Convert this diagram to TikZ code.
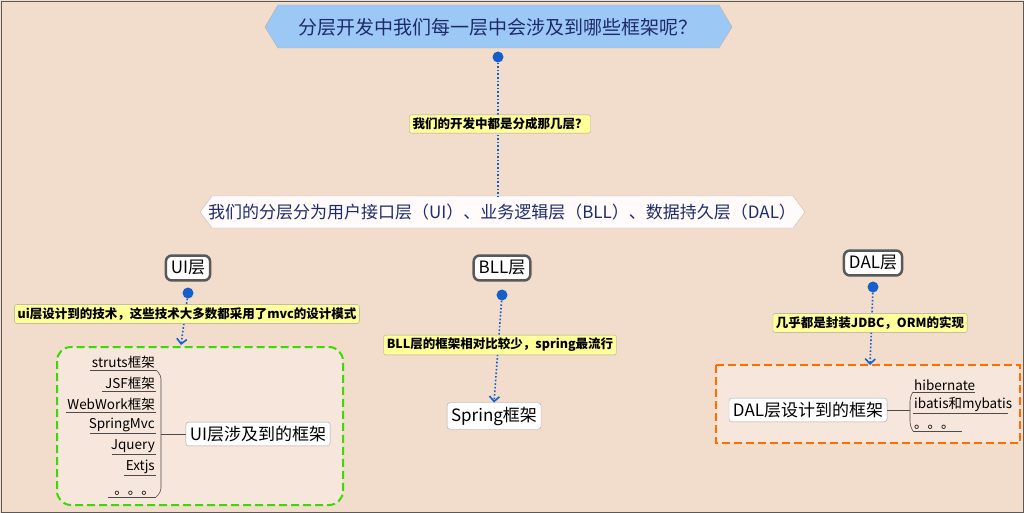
\documentclass[tikz,border=0pt]{standalone}
\usepackage{fontspec}
\setmainfont{Noto Sans CJK SC}
\usetikzlibrary{shapes.geometric,arrows.meta}
\definecolor{bg}{HTML}{F2DCCC}
\definecolor{navy}{HTML}{1F2A6B}
\definecolor{dotb}{HTML}{1560C8}
\definecolor{lab}{HTML}{FFFF99}
\tikzset{
 lab/.style={draw=gray!70,fill=lab,rounded corners=2pt,font=\fontsize{12.5}{13}\selectfont\bfseries,inner sep=3pt},
 lay/.style={draw=gray!70!black,line width=2.5pt,fill=white,rounded corners=6pt,font=\fontsize{17}{18}\selectfont,inner sep=5pt},
 wb/.style={draw=gray!70,fill=white,rounded corners=3pt,font=\fontsize{17}{18}\selectfont,inner sep=4pt},
 it/.style={font=\fontsize{13.5}{14}\selectfont,inner sep=1pt,anchor=south east},
 itl/.style={font=\fontsize{13.5}{14}\selectfont,inner sep=1pt,anchor=south west},
 dl/.style={dotb,line width=1.6pt,dotted},
 dot/.style={circle,fill=dotb,inner sep=0pt,minimum size=11pt},
 br/.style={draw=gray!60!black,line width=0.6pt}
}
\begin{document}
\begin{tikzpicture}[x=1pt,y=-1pt]
\useasboundingbox (0,0) rectangle (1024,513);
\fill[bg] (0,0) rectangle (1024,513);
\draw[gray!70!black,line width=0.8pt] (1,1) rectangle (1023,512);
% title
\fill[fill={rgb,255:red,156;green,200;blue,245},draw=gray!60] (265,27)--(278,5)--(719,5)--(732,27)--(719,48)--(278,48)--cycle;
\node[font=\fontsize{19}{20}\selectfont,text=navy] (t) at (498,27) {分层开发中我们每一层中会涉及到哪些框架呢？};
\node[dot] (d0) at (498,57) {};
\fill[white!90!bg,draw=gray!50] (200,212)--(212,196)--(793,196)--(805,212)--(793,228)--(212,228)--cycle;
\node[font=\fontsize{17}{18}\selectfont,text=navy] (l2) at (502,212) {我们的分层分为用户接口层（UI）、业务逻辑层（BLL）、数据持久层（DAL）};
\draw[dl] (d0) -- (498,196);
\node[lab] (q) at (500,124) {我们的开发中都是分成那几层？};
% layer nodes
\node[lay] (ui) at (188,268) {UI层};
\node[lay] (bll) at (502,268) {BLL层};
\node[lay] (dal) at (873,263) {DAL层};
\node[dot] (d1) at (188,293) {};
\node[dot] (d2) at (502,295) {};
\node[dot] (d3) at (873,287) {};
% boxes
\draw[green!80!black!70!lime,line width=2pt,dash pattern=on 8pt off 4pt,rounded corners=14pt,fill=white!30!bg] (57,347) rectangle (343,505);
\draw[orange!85!red,line width=2pt,dash pattern=on 8pt off 4pt,fill=white!30!bg] (716,365) rectangle (1020,443);
\node[wb] (uif) at (258,434) {UI层涉及到的框架};
\node[wb] (sp) at (494,416) {Spring框架};
\node[wb] (dalf) at (808,410) {DAL层设计到的框架};
\draw[dl,-{Straight Barb[length=5pt]}] (d1) -- (181,345);
\draw[dl,-{Straight Barb[length=5pt]}] (d2) -- (sp.north);
\draw[dl,-{Straight Barb[length=5pt]}] (d3) -- (870,365);
\node[lab] (l1) at (187,314) {ui层设计到的技术，这些技术大多数都采用了mvc的设计模式};
\node[lab] (lb) at (500,345) {BLL层的框架相对比较少，spring最流行};
\node[lab] (ld) at (870,323) {几乎都是封装JDBC，ORM的实现};
% UI list
\foreach \t/\y/\x in {struts框架/370/90,JSF框架/391/102,WebWork框架/412/66,SpringMvc/433/90,Jquery/454/112,Extjs/475/124,。。。/497/108}{
  \node[it] (n\y) at (156,\y) {\t};
  \draw[br] (\x,\y) -- (156,\y);
}
\draw[br,rounded corners=4pt] (156,370) -- (161,375) -- (161,492) -- (156,497);
\draw[br] (161,434) -- (uif.west);
% DAL list
\foreach \t/\y/\x in {hibernate/392/975,ibatis和mybatis/413/1008,。。。/431/962}{
  \node[itl] (m\y) at (913,\y) {\t};
  \draw[br] (913,\y) -- (\x,\y);
}
\draw[br,rounded corners=4pt] (913,392) -- (910,397) -- (910,426) -- (913,431);
\draw[br] (dalf.east) -- (910,410);
\end{tikzpicture}
\end{document}
